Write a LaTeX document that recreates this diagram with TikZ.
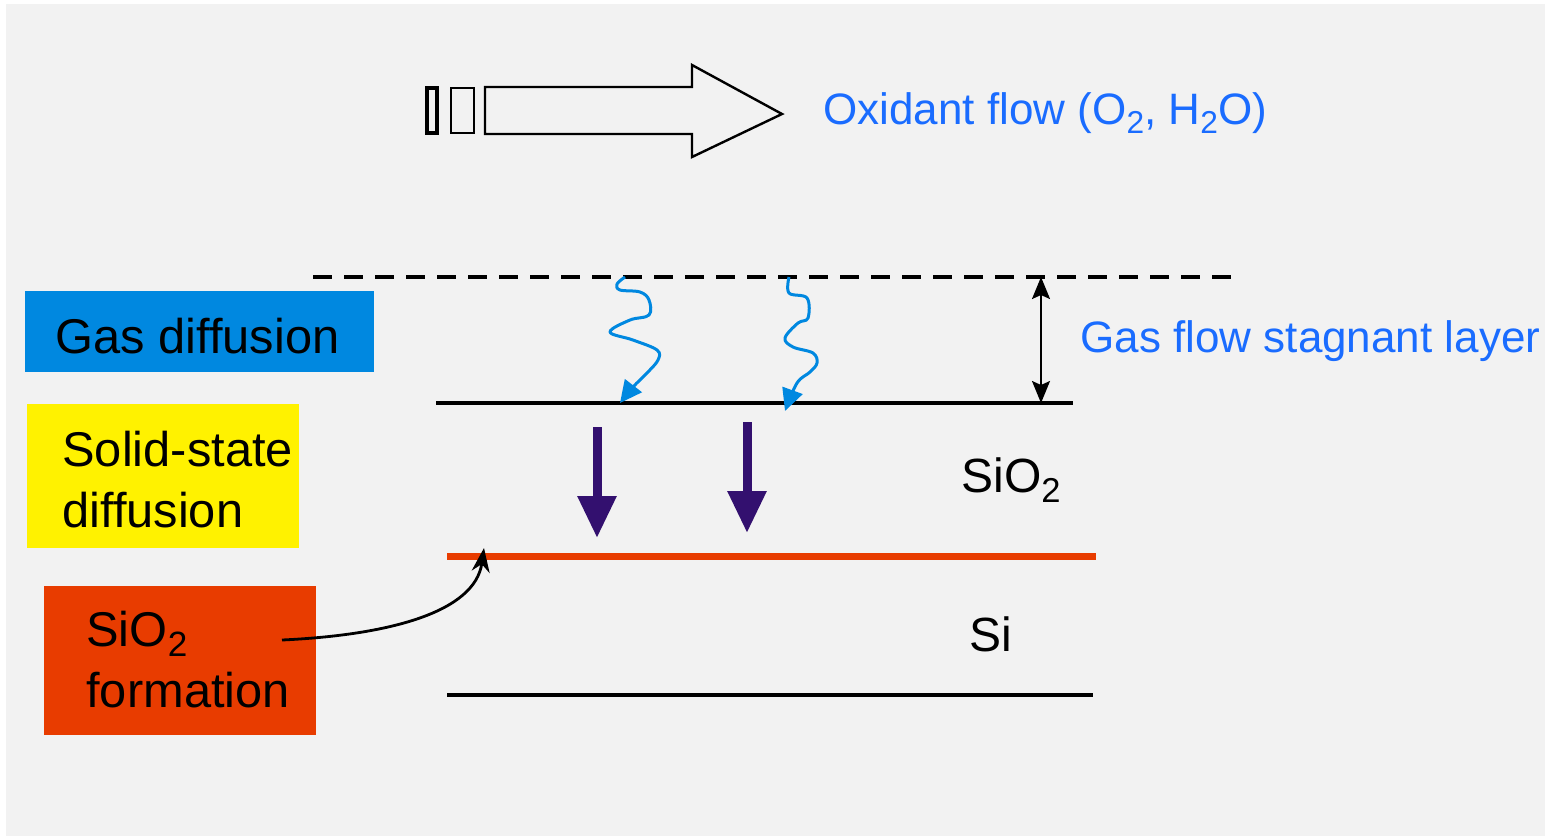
\documentclass[tikz,border=0pt]{standalone}
\usepackage{fontspec}
\setmainfont{Liberation Sans}
\usetikzlibrary{arrows.meta, positioning, calc}
\definecolor{panel}{HTML}{F2F2F2}
\definecolor{gasblue}{HTML}{0088E0}
\definecolor{flowblue}{HTML}{1A6CFF}
\definecolor{oxred}{HTML}{E83C00}
\definecolor{deeppurple}{HTML}{33106F}
\newcommand{\chemsub}[1]{\raisebox{-0.22em}{\scalebox{0.72}{#1}}}

\begin{document}
\begin{tikzpicture}[
    x=0.5pt, y=-0.5pt,
    tag/.style={rectangle, fill=#1, inner sep=0pt, anchor=north west},
    tagtext/.style={inner sep=0pt, anchor=base west, align=left, font=\fontsize{24.4}{30.5}\selectfont},
    layertext/.style={inner sep=0pt, anchor=base west, font=\fontsize{24}{29}\selectfont},
    note/.style={inner sep=0pt, anchor=base west, text=flowblue, font=\fontsize{22}{26}\selectfont},
    boundary/.style={line width=2pt},
    wave/.style={gasblue, line width=1.5pt, line join=round, -{Triangle[width=10.5pt,length=11pt]}},
    push/.style={deeppurple, line width=4.5pt, -{Triangle[width=18.5pt,length=21pt]}}
]
    \useasboundingbox (0,0) rectangle (1545,836);
    \fill[panel] (6,4) rectangle (1545,836);

    % oxidant flow arrow
    \draw[line width=1.6pt] (427,88) rectangle (437,133);
    \draw[line width=1pt] (451,88) rectangle (474,133);
    \draw[line width=1.2pt, line join=miter] (485,87) -- (692,87) -- (692,65) -- (782,114) -- (692,157) -- (692,134) -- (485,134) -- cycle;
    \node[note] (oxidant) at (823,124) {Oxidant flow (O\chemsub{2}, H\chemsub{2}O)};

    % process boxes
    \node[tag=gasblue, minimum width=174.5pt, minimum height=40.5pt] (gasbox) at (25,291) {};
    \node[tagtext] (gastext) at (55,353) {Gas diffusion};
    \node[tag=yellow, minimum width=136pt, minimum height=72pt] (solidbox) at (27,404) {};
    \node[tagtext] (solidtext) at (62,527) {Solid-state\\diffusion};
    \node[tag=oxred, minimum width=136pt, minimum height=74.5pt] (formbox) at (44,586) {};
    \node[tagtext] (formtext) at (86,707) {SiO\chemsub{2}\\formation};

    % layers
    \draw[line width=1.6pt, dash pattern=on 9.5pt off 6pt] (313,277) -- (1235,277);
    \draw[boundary] (436,403) -- (1073,403);
    \draw[oxred, line width=3.5pt] (447,556) -- (1096,556);
    \draw[boundary] (447,695) -- (1093,695);
    \node[layertext] (oxide) at (961,492) {SiO\chemsub{2}};
    \node[layertext] (silicon) at (969,651) {Si};

    % stagnant layer
    \coordinate (stagtop) at (1041,277);
    \coordinate (stagbot) at (1041,403);
    \draw[line width=1pt, {Stealth[width=9pt,length=11pt,inset=2pt]}-{Stealth[width=9pt,length=11pt,inset=2pt]}] (stagtop) -- (stagbot);
    \node[note] (stagnant) at (1080,352) {Gas flow stagnant layer};

    % gas diffusion paths
    \draw[wave] plot[smooth, tension=0.6] coordinates {(625,277) (617,284) (620,290) (640,292) (649,300) (649,315) (630,320) (610,332) (633,340) (657,350) (658,360) (647,373) (633,387) (620,403)};
    \draw[wave] plot[smooth, tension=0.6] coordinates {(789,277) (789,293) (807,298) (808,318) (798,323) (785,338) (793,347) (813,353) (817,363) (810,372) (797,383) (785,411)};

    % solid-state diffusion
    \draw[push] (597,427) -- (597,538);
    \draw[push] (747,422) -- (747,533);

    % interface pointer
    \coordinate (formstart) at (282,640);
    \coordinate (formend) at (484,548);
    \draw[line width=1.4pt, -{Stealth[width=9pt,length=12pt]}] (formstart) .. controls (390,635) and (475,612) .. (formend);
\end{tikzpicture}
\end{document}
